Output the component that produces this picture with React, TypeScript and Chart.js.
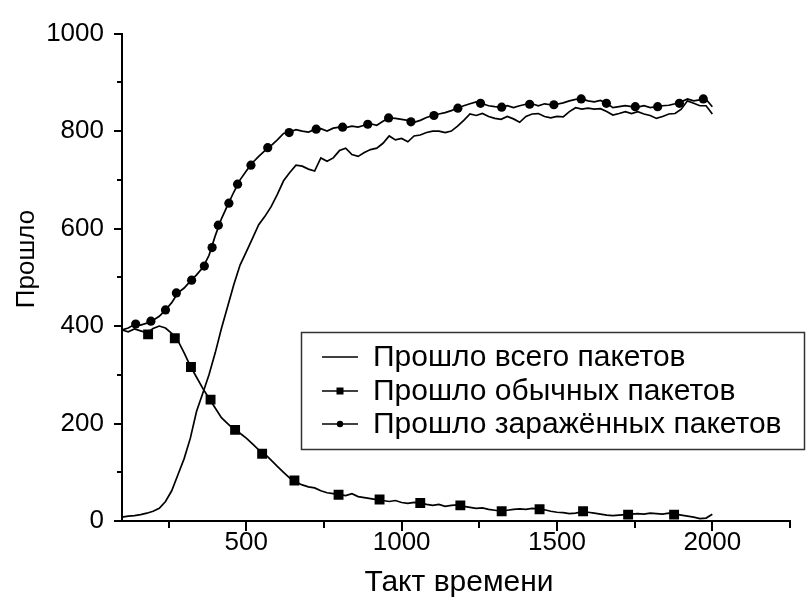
import React, { useEffect, useRef } from "react";
import { Chart, registerables } from "chart.js";

Chart.register(...registerables);

// ---------- data ----------
const seriesNames = [
  "Прошло всего пакетов",
  "Прошло обычных пакетов",
  "Прошло заражённых пакетов",
];
const xAxisTitle = "Такт времени";
const yAxisTitle = "Прошло";

const xValues = [
  100, 120, 140, 160, 180, 200, 220, 240, 260, 280, 300, 320, 340, 360, 380, 400, 420, 440, 460, 480,
  500, 520, 540, 560, 580, 600, 620, 640, 660, 680, 700, 720, 740, 760, 780, 800, 820, 840, 860, 880,
  900, 920, 940, 960, 980, 1000, 1020, 1040, 1060, 1080, 1100, 1120, 1140, 1160, 1180, 1200, 1220, 1240, 1260, 1280,
  1300, 1320, 1340, 1360, 1380, 1400, 1420, 1440, 1460, 1480, 1500, 1520, 1540, 1560, 1580, 1600, 1620, 1640, 1660, 1680,
  1700, 1720, 1740, 1760, 1780, 1800, 1820, 1840, 1860, 1880, 1900, 1920, 1940, 1960, 1980, 2000,
];

const totalValues = [
  8, 10, 11, 13, 16, 20, 26, 40, 62, 95, 128, 170, 225, 262, 300, 345, 395, 440, 485, 525,
  552, 580, 608, 625, 645, 670, 698, 715, 730, 728, 722, 718, 745, 738, 745, 760, 765, 752, 748, 756,
  762, 765, 775, 790, 782, 785, 778, 790, 792, 797, 800, 800, 797, 800, 810, 822, 835, 832, 836, 830,
  826, 824, 830, 825, 818, 830, 835, 836, 830, 827, 830, 829, 840, 848, 845, 847, 845, 846, 840, 833,
  836, 840, 836, 840, 835, 832, 826, 830, 835, 836, 845, 862, 857, 852, 852, 835,
];

const normalValues = [
  392, 388, 394, 390, 386, 395, 400, 396, 385, 370, 345, 318, 295, 272, 252, 232, 212, 200, 188, 180,
  170, 158, 146, 137, 125, 112, 100, 88, 80, 74, 70, 68, 62, 58, 56, 54, 52, 56, 50, 48,
  46, 44, 42, 40, 42, 38, 36, 38, 37, 34, 32, 34, 30, 32, 33, 30, 28, 26, 27, 24,
  22, 20, 22, 24, 25, 24, 26, 25, 23, 20, 18, 17, 15, 16, 19, 18, 16, 14, 12, 11,
  12, 13, 14, 15, 14, 16, 15, 14, 16, 14, 12, 10, 8, 5, 6, 14,
];

const infectedValues = [
  392, 396, 403, 402, 406, 412, 420, 433, 448, 468, 478, 492, 505, 520, 545, 585, 620, 648, 675, 700,
  718, 735, 748, 760, 770, 782, 795, 798, 803, 800, 798, 803, 805, 800, 806, 808, 807, 810, 808, 812,
  815, 812, 820, 827, 826, 824, 822, 818, 822, 828, 832, 835, 838, 842, 847, 852, 856, 860, 856, 852,
  850, 849, 852, 848, 852, 855, 856, 852, 856, 854, 855, 858, 862, 865, 866, 862, 860, 863, 857, 848,
  850, 852, 850, 849, 852, 848, 850, 852, 853, 856, 860, 866, 862, 864, 865, 850,
];

const normalMarkerX = [184, 270, 322, 385, 464, 551, 655, 797, 929, 1060, 1189, 1322, 1444, 1584, 1729, 1877];
const normalMarkerY = [383, 375, 316, 249, 187, 138, 83, 54, 44, 37, 32, 20, 24, 20, 13, 13];

const infectedMarkerX = [
  144, 193, 240, 275, 324, 365, 390, 410, 444, 472, 515, 569, 638, 725, 810, 891, 958, 1030, 1104, 1181,
  1254, 1322, 1412, 1490, 1578, 1659, 1752, 1824, 1894, 1971,
];
const infectedMarkerY = [
  404, 410, 433, 468, 494, 523, 561, 607, 652, 691, 730, 766, 797, 804, 808, 814, 827, 819, 832, 847,
  857, 849, 855, 854, 866, 857, 850, 850, 857, 866,
];

const xMin = 100;
const xMax = 2250;
const xLabelTicks = [500, 1000, 1500, 2000];
const xMinorStep = 250;
const yMin = 0;
const yMax = 1000;
const yLabelTicks = [0, 200, 400, 600, 800, 1000];
const yMinorStep = 100;

// ---------- helpers ----------
const pts = (xs: number[], ys: number[]) => xs.map((x, i) => ({ x, y: ys[i] }));
const FONT = "'Liberation Sans', Arial, sans-serif";

const ticksPlugin = {
  id: "customTicks",
  afterDraw(chart: any) {
    const ctx = chart.ctx;
    const xs = chart.scales.x;
    const ys = chart.scales.y;
    const area = chart.chartArea;
    ctx.save();
    ctx.strokeStyle = "#000";
    ctx.lineWidth = 2;
    for (let v = xMinorStep; v <= xMax; v += xMinorStep) {
      if (v < xMin) continue;
      const px = Math.round(xs.getPixelForValue(v));
      const len = v % 500 === 0 ? 10 : 7;
      ctx.beginPath();
      ctx.moveTo(px, area.bottom);
      ctx.lineTo(px, area.bottom + len);
      ctx.stroke();
    }
    for (let v = yMin; v <= yMax; v += yMinorStep) {
      const py = Math.round(ys.getPixelForValue(v));
      const len = v % 200 === 0 ? 8 : 5;
      ctx.beginPath();
      ctx.moveTo(area.left, py);
      ctx.lineTo(area.left - len, py);
      ctx.stroke();
    }
    // axis titles
    ctx.fillStyle = "#000";
    ctx.textAlign = "center";
    ctx.textBaseline = "middle";
    ctx.font = `30px ${FONT}`;
    ctx.fillText(xAxisTitle, (area.left + area.right) / 2 + 3, 583);
    ctx.font = `26px ${FONT}`;
    ctx.translate(27, 259);
    ctx.rotate(-Math.PI / 2);
    ctx.fillText(yAxisTitle, 0, 0);
    ctx.restore();
  },
};

const legendPlugin = {
  id: "boxLegend",
  afterDraw(chart: any) {
    const ctx = chart.ctx;
    ctx.save();
    const bx = 301.5, by = 332.5, bw = 503, bh = 117;
    ctx.fillStyle = "#fff";
    ctx.fillRect(bx, by, bw, bh);
    ctx.strokeStyle = "#333";
    ctx.lineWidth = 1.5;
    ctx.strokeRect(bx, by, bw, bh);
    const rows = [357, 391, 424];
    const x0 = 322, x1 = 358;
    ctx.font = `30px ${FONT}`;
    ctx.textBaseline = "middle";
    ctx.fillStyle = "#000";
    seriesNames.forEach((name, i) => {
      const y = rows[i];
      ctx.strokeStyle = "#000";
      ctx.lineWidth = 1.5;
      ctx.beginPath();
      ctx.moveTo(x0, y);
      ctx.lineTo(x1, y);
      ctx.stroke();
      const cx = (x0 + x1) / 2;
      if (i === 1) {
        ctx.fillRect(cx - 3.5, y - 3.5, 7, 7);
      } else if (i === 2) {
        ctx.beginPath();
        ctx.arc(cx, y, 3.2, 0, Math.PI * 2);
        ctx.fill();
      }
      ctx.fillText(name, 373, y + 1);
    });
    ctx.restore();
  },
};

export default function App() {
  const ref = useRef<HTMLCanvasElement | null>(null);

  useEffect(() => {
    if (!ref.current) return;
    const lineDs = (data: any[], label: string) => ({
      label,
      data,
      showLine: true,
      borderColor: "#000",
      borderWidth: 1.7,
      pointRadius: 0,
      tension: 0,
      fill: false,
    });
    const chart = new Chart(ref.current, {
      type: "scatter",
      data: {
        datasets: [
          lineDs(pts(xValues, totalValues), seriesNames[0]),
          lineDs(pts(xValues, normalValues), seriesNames[1]),
          lineDs(pts(xValues, infectedValues), seriesNames[2]),
          {
            label: seriesNames[1] + " markers",
            data: pts(normalMarkerX, normalMarkerY),
            showLine: false,
            pointStyle: "rect",
            pointRadius: 7,
            backgroundColor: "#000",
            borderColor: "#000",
            borderWidth: 0,
          },
          {
            label: seriesNames[2] + " markers",
            data: pts(infectedMarkerX, infectedMarkerY),
            showLine: false,
            pointStyle: "circle",
            pointRadius: 4.6,
            backgroundColor: "#000",
            borderColor: "#000",
            borderWidth: 0,
          },
        ],
      },
      options: {
        animation: false,
        responsive: false,
        maintainAspectRatio: false,
        devicePixelRatio: 1,
        layout: { padding: { left: 0, top: 25, right: 18, bottom: 0 } },
        plugins: {
          legend: { display: false },
          tooltip: { enabled: false },
        },
        scales: {
          x: {
            type: "linear",
            min: xMin,
            max: xMax,
            afterBuildTicks: (s: any) => {
              s.ticks = xLabelTicks.map((v) => ({ value: v }));
            },
            afterFit: (s: any) => {
              s.height = 77;
            },
            grid: { display: false, drawTicks: false },
            border: { display: true, color: "#000", width: 2 },
            ticks: {
              color: "#000",
              font: { family: FONT, size: 26 },
              padding: 6,
              maxRotation: 0,
              autoSkip: false,
              callback: (v: any) => String(v),
            },
            title: { display: false },
          },
          y: {
            type: "linear",
            min: yMin,
            max: yMax,
            afterBuildTicks: (s: any) => {
              s.ticks = yLabelTicks.map((v) => ({ value: v }));
            },
            afterFit: (s: any) => {
              s.width = 122;
            },
            grid: { display: false, drawTicks: false },
            border: { display: true, color: "#000", width: 2 },
            ticks: {
              color: "#000",
              font: { family: FONT, size: 26 },
              padding: 18,
              autoSkip: false,
              callback: (v: any) => String(v),
            },
            title: { display: false },
          },
        },
      },
      plugins: [ticksPlugin, legendPlugin],
    });
    return () => chart.destroy();
  }, []);

  return (
    <div style={{ position: "fixed", left: 0, top: 0, width: 808, height: 598, background: "#fff" }}>
      <canvas ref={ref} width={808} height={598} style={{ width: 808, height: 598, display: "block" }} />
    </div>
  );
}
